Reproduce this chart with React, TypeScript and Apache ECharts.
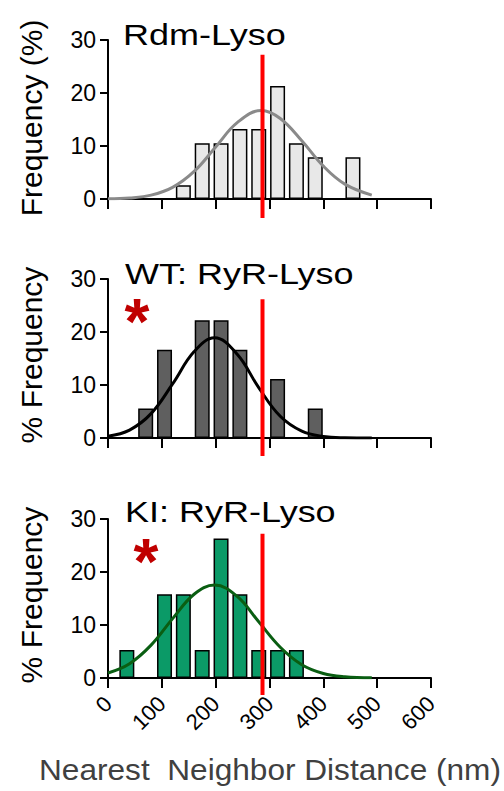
import React, { useEffect, useRef } from "react";
import * as echarts from "echarts";

// ---------- data ----------
const panelTitles = ["Rdm-Lyso", "WT: RyR-Lyso", "KI: RyR-Lyso"];
const yAxisNames = ["Frequency (%)", "% Frequency", "% Frequency"];
const xAxisTitle = "Nearest  Neighbor Distance (nm)";

// histogram bins (bin centre, nm) and % frequency
const rdmBins = [140, 175, 210, 245, 280, 315, 350, 385, 455];
const rdmFreq = [2.6, 10.5, 10.5, 13.2, 13.2, 21.3, 10.5, 7.9, 7.9];

const wtBins = [70, 105, 175, 210, 245, 315, 385];
const wtFreq = [5.56, 16.67, 22.22, 22.22, 16.67, 11.11, 5.56];

const kiBins = [35, 105, 140, 175, 210, 245, 280, 315, 350];
const kiFreq = [5.26, 15.79, 15.79, 5.26, 26.32, 15.79, 5.26, 5.26, 5.26];

// fitted curves
const rdmFitX = [0, 40, 80, 120, 160, 200, 240, 285, 320, 360, 400, 440, 490];
const rdmFitY = [0.04, 0.19, 0.73, 2.2, 5.2, 9.8, 14.4, 16.7, 15.2, 11.0, 6.2, 2.8, 0.73];

const wtFitX = [0, 40, 80, 120, 160, 198, 240, 280, 320, 360, 400, 440, 490];
const wtFitY = [0.35, 1.5, 4.6, 10.2, 16.3, 18.9, 15.8, 9.5, 4.1, 1.3, 0.3, 0.05, 0];

const kiFitX = [0, 40, 80, 120, 160, 198, 240, 280, 320, 360, 400, 440, 490];
const kiFitY = [0.95, 2.7, 6.2, 11.2, 15.8, 17.55, 15.4, 10.6, 5.8, 2.5, 0.85, 0.23, 0.03];

// red reference line (nm) and its vertical extent in % units per panel
const refLineX = 287;
const refLineTop = [27.2, 26.2, 27.2];
const refLineBottom = [-3.6, -3.4, -3.2];

const xMin = 0;
const xMax = 600;
const xInterval = 100;
const yMin = 0;
const yMax = 30;
const yInterval = 10;

const FONT = "'Liberation Sans', Arial, Helvetica, sans-serif";

const barColors = ["#e8e8e8", "#5f5f5f", "#0b9a67"];
const curveColors = ["#8a8a8a", "#000000", "#0a5e12"];

export default function App() {
  const ref = useRef<HTMLDivElement>(null);

  useEffect(() => {
    if (!ref.current) return;
    const chart = echarts.init(ref.current, null, { renderer: "svg" });

    const tops = [40, 279, 519];
    const bins = [rdmBins, wtBins, kiBins];
    const freqs = [rdmFreq, wtFreq, kiFreq];
    const fitXs = [rdmFitX, wtFitX, kiFitX];
    const fitYs = [rdmFitY, wtFitY, kiFitY];

    const grid = tops.map((t) => ({ left: 108, width: 323, top: t, height: 159 }));

    const xAxis = tops.map((_, i) => ({
      type: "value",
      gridIndex: i,
      min: xMin,
      max: xMax,
      interval: xInterval,
      splitLine: { show: false },
      axisLine: { show: true, onZero: false, lineStyle: { color: "#000", width: 2 } },
      axisTick: { show: true, length: 10, lineStyle: { color: "#000", width: 2 } },
      axisLabel: {
        show: i === 2,
        rotate: 45,
        fontSize: 22,
        fontFamily: FONT,
        color: "#000",
        margin: 22,
      },
    }));

    const yAxis = tops.map((_, i) => ({
      type: "value",
      gridIndex: i,
      min: yMin,
      max: yMax,
      interval: yInterval,
      splitLine: { show: false },
      axisLine: { show: true, lineStyle: { color: "#000", width: 2 } },
      axisTick: { show: true, length: 8, lineStyle: { color: "#000", width: 2 } },
      axisLabel: { fontSize: 23, fontFamily: FONT, color: "#000", margin: 12 },
    }));

    const series: any[] = [];
    tops.forEach((_, i) => {
      series.push({
        type: "bar",
        xAxisIndex: i,
        yAxisIndex: i,
        barWidth: 15,
        data: bins[i].map((b, k) => [b, freqs[i][k]]),
        itemStyle: { color: barColors[i], borderColor: "#000", borderWidth: 1.5 },
        silent: true,
        z: 2,
      });
      series.push({
        type: "line",
        xAxisIndex: i,
        yAxisIndex: i,
        data: fitXs[i].map((x, k) => [x, fitYs[i][k]]),
        smooth: 0.4,
        symbol: "none",
        lineStyle: { color: curveColors[i], width: 3 },
        silent: true,
        z: 3,
      });
      series.push({
        type: "line",
        xAxisIndex: i,
        yAxisIndex: i,
        data: [
          [refLineX, refLineBottom[i]],
          [refLineX, refLineTop[i]],
        ],
        clip: false,
        symbol: "none",
        lineStyle: { color: "#ff0000", width: 4 },
        silent: true,
        z: 4,
      });
    });

    const titleY = [34.6, 273.6, 511.3];
    const nameY = [118, 355, 595];
    const graphic: any[] = [];
    panelTitles.forEach((t, i) => {
      graphic.push({
        type: "text",
        x: i === 0 ? 123 : 125,
        y: titleY[i],
        scaleX: 1.2,
        style: {
          text: t,
          fontSize: 30,
          fontFamily: FONT,
          fill: "#000",
          align: "left",
          verticalAlign: "middle",
        },
      });
      graphic.push({
        type: "text",
        x: 31,
        y: nameY[i],
        rotation: Math.PI / 2,
        style: {
          text: yAxisNames[i],
          fontSize: 30,
          fontFamily: FONT,
          fill: "#000",
          align: "center",
          verticalAlign: "middle",
        },
      });
    });
    [
      [137, 322],
      [146, 562],
    ].forEach(([x, y]) => {
      graphic.push({
        type: "text",
        x,
        y,
        style: {
          text: "*",
          fontSize: 64,
          fontWeight: "bold",
          fontFamily: FONT,
          fill: "#c00000",
          align: "center",
          verticalAlign: "middle",
        },
      });
    });
    graphic.push({
      type: "text",
      x: 270,
      y: 770,
      scaleX: 1.09,
      style: {
        text: xAxisTitle,
        fontSize: 29,
        fontFamily: FONT,
        fill: "#404040",
        align: "center",
        verticalAlign: "middle",
      },
    });

    chart.setOption({
      animation: false,
      backgroundColor: "#fff",
      grid,
      xAxis,
      yAxis,
      series,
      graphic,
    } as any);

    return () => chart.dispose();
  }, []);

  return (
    <div
      ref={ref}
      style={{ position: "fixed", left: 0, top: 0, width: 504, height: 791 }}
    />
  );
}
